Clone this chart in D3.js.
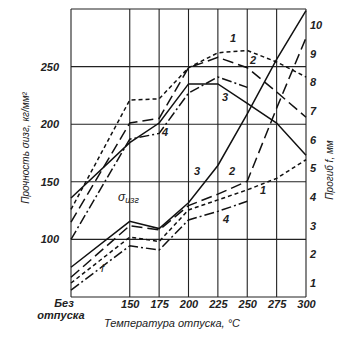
<!DOCTYPE html>
<html>
<head>
<meta charset="utf-8">
<script src="https://cdn.jsdelivr.net/npm/d3@7"></script>
<style>
  body { margin: 0; background: #fff; }
  svg text { font-family: "Liberation Sans", Arial, sans-serif; font-style: italic; font-weight: bold; fill: #222; }
</style>
</head>
<body>
<div id="chart"></div>
<script>
// temperatures (100 stands for "без отпуска")
const temps = [100, 150, 175, 200, 225, 250, 275, 300];
const tempLabels = ["", "150", "175", "200", "225", "250", "275", "300"];

// strength σизг, кг/мм² (left axis)
const sigma1 = [126, 221, 222, 249, 262, 264, 254, 241];
const sigma2 = [115, 201, 205, 249, 258, 249, 228, 206];
const sigma3 = [136, 184, 201, 235, 235, 218, 201, 173];
const sigma4 = [100, 187, 192, 227, 241, 232];

// deflection f, мм (right axis)
const f1 = [1.0, 2.6, 2.45, 3.55, 3.9, 4.25, 4.65, 5.3];
const f2 = [1.2, 3.0, 2.85, 3.7, 4.1, 4.55, 7.1, 9.55];
const f3 = [1.55, 3.15, 2.9, 3.8, 5.1, 6.9, 8.8, 10.5];
const f4 = [0.75, 2.3, 2.15, 3.2, 3.5, 3.85];

const leftTicks = [100, 150, 200, 250];
const rightTicks = [1, 2, 3, 4, 5, 6, 7, 8, 9, 10];

//set up svg
const W = 337, H = 339;
const svg = d3.select("#chart").append("svg")
    .attr("width", W)
    .attr("height", H);

//scales
const x = d3.scaleLinear().domain([100, 300]).range([71, 306]);
const yL = d3.scaleLinear().domain([50, 300]).range([297, 9]);
const yR = d3.scaleLinear().domain([0, 10]).range([311.7, 25]);

//grid
const grid = svg.append("g").attr("stroke", "#222").attr("stroke-width", 1.1);
grid.selectAll("line.v").data(temps).enter().append("line")
    .attr("x1", d => x(d)).attr("x2", d => x(d))
    .attr("y1", yL(300)).attr("y2", yL(50));
grid.selectAll("line.h").data(d3.range(50, 301, 50)).enter().append("line")
    .attr("x1", x(100)).attr("x2", x(300))
    .attr("y1", d => yL(d)).attr("y2", d => yL(d));

//left axis labels
svg.append("g")
    .attr("transform", `translate(${x(100) - 12},0)`)
    .call(d3.axisLeft(yL).tickValues(leftTicks).tickSize(0).tickPadding(0))
    .call(g => g.select(".domain").remove())
    .selectAll("text").style("font-size", "11px");

//right axis labels
svg.append("g")
    .attr("transform", `translate(${x(300) + 4},0)`)
    .call(d3.axisRight(yR).tickValues(rightTicks).tickSize(0).tickPadding(0))
    .call(g => g.select(".domain").remove())
    .selectAll("text").style("font-size", "11px");

//bottom axis labels
svg.append("g")
    .attr("transform", `translate(0,${yL(50) + 3})`)
    .call(d3.axisBottom(x).tickValues(temps).tickFormat((d, i) => tempLabels[i]).tickSize(0).tickPadding(0))
    .call(g => g.select(".domain").remove())
    .selectAll("text").style("font-size", "11px");

svg.append("text").attr("x", 64).attr("y", 307).attr("text-anchor", "middle")
    .style("font-size", "11px").text("Без");
svg.append("text").attr("x", 61).attr("y", 319).attr("text-anchor", "middle")
    .style("font-size", "11px").text("отпуска");
svg.append("text").attr("x", 172).attr("y", 327).attr("text-anchor", "middle")
    .style("font-size", "11px").style("font-weight", "normal").text("Температура отпуска, °С");

//axis titles
svg.append("text")
    .attr("transform", "translate(29,148) rotate(-90)")
    .attr("text-anchor", "middle")
    .style("font-size", "10px").style("font-weight", "normal")
    .text("Прочность σизг, кг/мм²");
svg.append("text")
    .attr("transform", "translate(333,170) rotate(-90)")
    .attr("text-anchor", "middle")
    .style("font-size", "10px").style("font-weight", "normal")
    .text("Прогиб f, мм");

//series
const styles = [
    { s: sigma1, f: f1, dash: "4,3" },
    { s: sigma2, f: f2, dash: "11,5" },
    { s: sigma3, f: f3, dash: null },
    { s: sigma4, f: f4, dash: "10,3,2,3" }
];

const lineL = d3.line().x((d, i) => x(temps[i])).y(d => yL(d));
const lineR = d3.line().x((d, i) => x(temps[i])).y(d => yR(d));

const curves = svg.append("g").attr("fill", "none").attr("stroke", "#111").attr("stroke-width", 1.5);
styles.forEach(st => {
    curves.append("path").attr("d", lineL(st.s)).attr("stroke-dasharray", st.dash);
    curves.append("path").attr("d", lineR(st.f)).attr("stroke-dasharray", st.dash);
});

//curve numbers
const notes = [
    ["1", 233, 42], ["2", 253, 64], ["3", 225, 101], ["4", 165, 136],
    ["3", 197, 175], ["2", 232, 175], ["1", 263, 194], ["4", 226, 223]
];
svg.selectAll("text.note").data(notes).enter().append("text")
    .attr("class", "note")
    .attr("x", d => d[1]).attr("y", d => d[2])
    .attr("text-anchor", "middle")
    .style("font-size", "11px")
    .text(d => d[0]);

svg.append("text").attr("x", 118).attr("y", 201).style("font-size", "12px").style("font-weight", "normal")
    .text("σ").append("tspan").attr("dy", 2).style("font-size", "9px").text("изг");
svg.append("text").attr("x", 101).attr("y", 272).style("font-size", "11px").style("font-weight", "normal").text("f");
</script>
</body>
</html>
